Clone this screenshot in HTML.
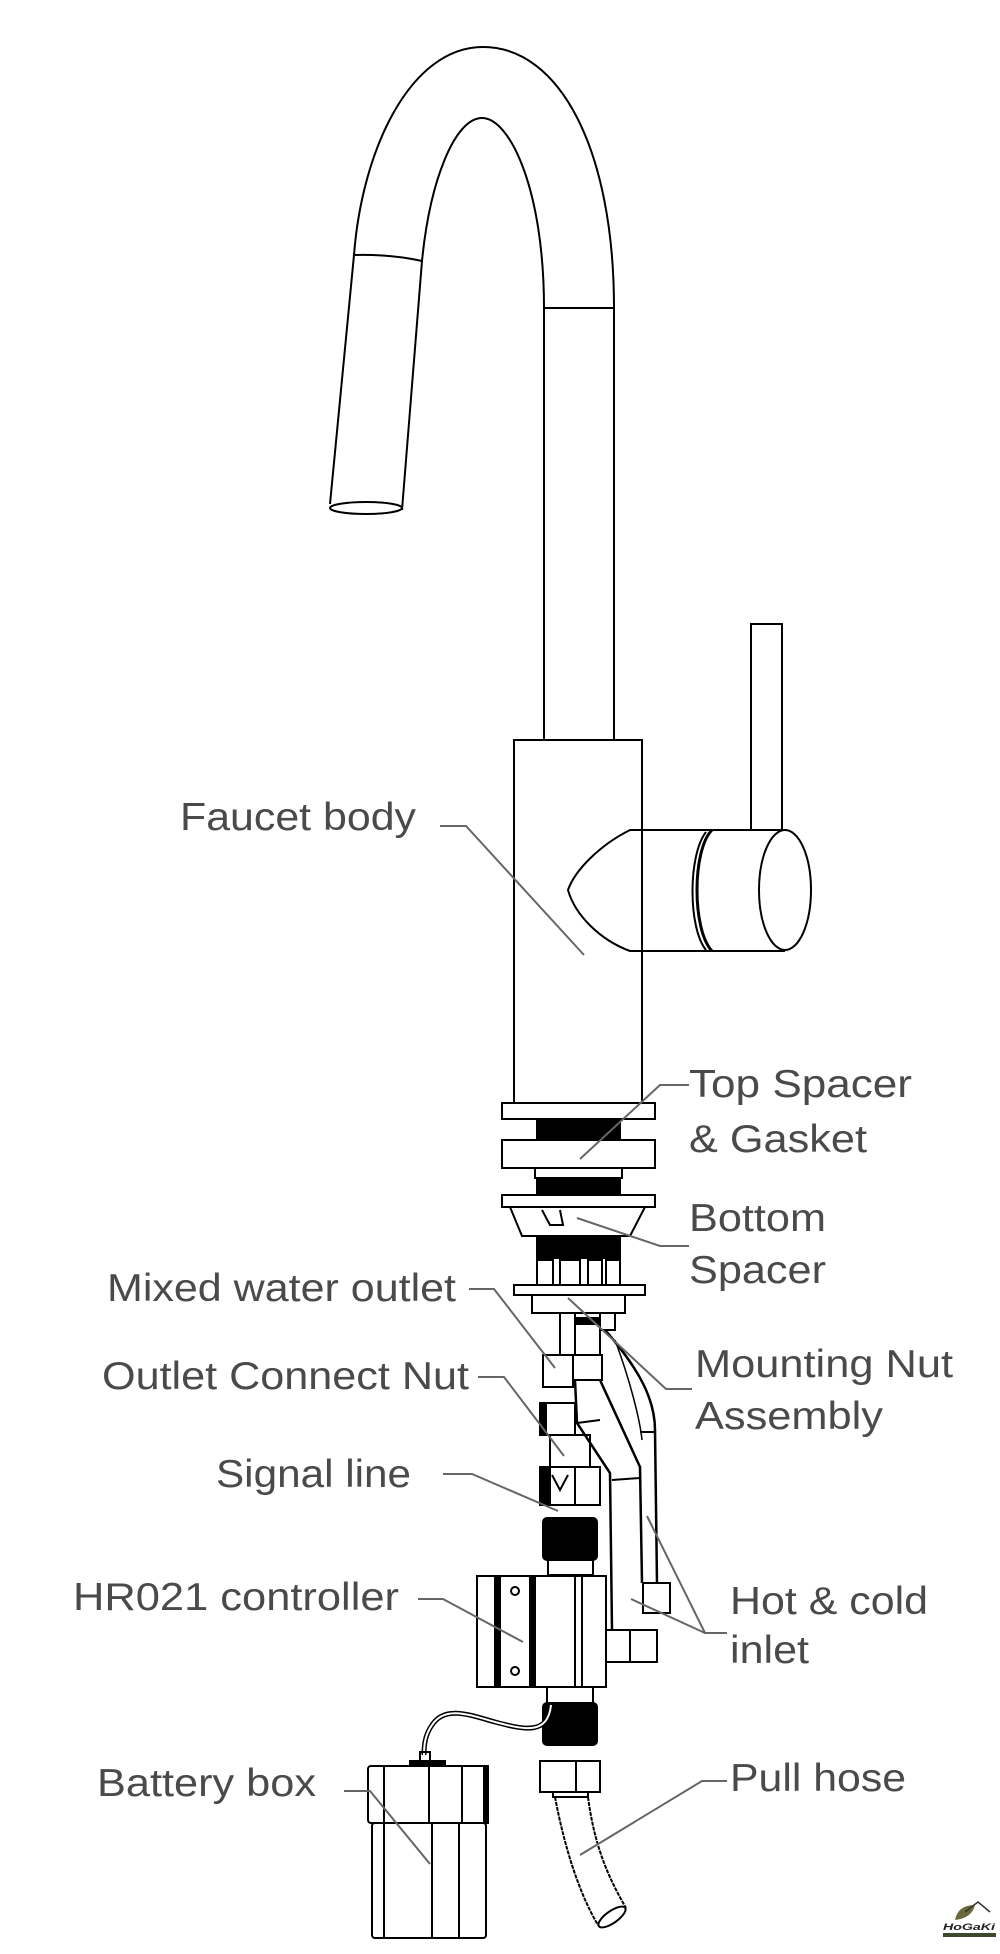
<!DOCTYPE html>
<html><head><meta charset="utf-8"><style>
html,body{margin:0;padding:0;background:#fff}
svg{display:block}
text{font-family:"Liberation Sans",sans-serif;font-size:39px;fill:#4a4a4a}
</style></head><body>
<svg width="1000" height="1954" viewBox="0 0 1000 1954" xmlns="http://www.w3.org/2000/svg">
<g fill="none" stroke="#000" stroke-width="2">
<!-- spout arc -->
<path d="M330,504 L354,255 C362,150 410,47 483,47 C560,47 614,150 614,308"/>
<path d="M402,510 L422,261 C430,180 455,118 482,118 C510,118 544,190 544,308"/>
<path d="M354,255 Q390,254 422,261"/>
<ellipse cx="366" cy="508" rx="36" ry="6"/>
<!-- riser -->
<rect x="544" y="308" width="70" height="432"/>
<!-- body -->
<rect x="514" y="740" width="128" height="363" fill="#fff"/>
<!-- handle -->
<path d="M642,830 L630,830 C600,845 575,870 568,890 C575,915 600,940 630,951 L642,951"/>
<path d="M630,830 L785,830 M630,951 L785,951"/>
<ellipse cx="785" cy="890" rx="26" ry="60"/>
<path d="M712,830 C692,850 692,930 712,951" stroke-width="3"/>
<path d="M706,832 C688,855 688,928 706,950"/>
<rect x="751" y="624" width="31" height="206"/>
<!-- spacers -->
<rect x="502" y="1103" width="153" height="16"/>
<rect x="537" y="1119" width="83" height="21" fill="#000"/>
<rect x="502" y="1140" width="153" height="28"/>
<rect x="535" y="1168" width="87" height="10"/>
<rect x="537" y="1178" width="83" height="17" fill="#000"/>
<rect x="502" y="1195" width="153" height="12"/>
<path d="M510,1207 L522,1236 L630,1236 L645,1207 Z"/>
<path d="M542,1210 L550,1225 L563,1225 L560,1210"/>
<rect x="537" y="1236" width="83" height="22" fill="#000"/>
<rect x="537" y="1260" width="16" height="25"/>
<rect x="560" y="1260" width="20" height="25"/>
<rect x="588" y="1260" width="14" height="25"/>
<rect x="606" y="1260" width="14" height="25"/>
<rect x="514" y="1285" width="131" height="10"/>
<rect x="532" y="1295" width="93" height="18"/>
<rect x="560" y="1313" width="15" height="42"/>
<rect x="575" y="1318" width="25" height="37"/>
<rect x="575" y="1318" width="25" height="6" fill="#000"/>
<rect x="600" y="1313" width="15" height="17"/>
<!-- outlet nuts -->
<rect x="543" y="1355" width="30" height="32"/>
<rect x="573" y="1355" width="29" height="25"/>
<!-- pipe A -->
<path d="M575,1380 L577,1423 L610,1473 L612,1630" stroke-width="2.5"/>
<path d="M600,1380 L640,1467 L642,1583" stroke-width="2.5"/>
<path d="M577,1423 L600,1420 M612,1480 L640,1478"/>
<!-- pipe B -->
<path d="M605,1330 C640,1370 655,1400 655,1430 L657,1583" stroke-width="2.5"/>
<path d="M615,1340 C630,1380 640,1420 642,1440" stroke-width="1.5"/>
<path d="M640,1432 L655,1432"/>
<rect x="643" y="1583" width="27" height="30"/>
<rect x="598" y="1630" width="59" height="32"/>
<path d="M630,1630 L630,1662"/>
<rect x="598" y="1630" width="4" height="32" fill="#000"/>
<!-- stack -->
<rect x="540" y="1403" width="35" height="32"/>
<rect x="540" y="1403" width="6" height="32" fill="#000"/>
<rect x="550" y="1435" width="40" height="32"/>
<rect x="540" y="1467" width="60" height="38"/>
<rect x="540" y="1467" width="10" height="38" fill="#000"/>
<path d="M575,1467 L575,1505"/>
<path d="M552,1475 L560,1490 L568,1475" stroke-width="2"/>
<rect x="543" y="1518" width="54" height="42" rx="4" fill="#000"/>
<rect x="548" y="1560" width="45" height="15"/>
<!-- controller -->
<rect x="477" y="1576" width="129" height="111" fill="#fff"/>
<path d="M495,1576 V1687 M532,1576 V1687 M575,1576 V1687 M582,1576 V1687"/>
<rect x="495" y="1576" width="5" height="111" fill="#000"/>
<rect x="530" y="1576" width="5" height="111" fill="#000"/>
<circle cx="515" cy="1591" r="4"/>
<circle cx="515" cy="1671" r="4"/>
<rect x="547" y="1687" width="46" height="16"/>
<rect x="543" y="1703" width="54" height="42" rx="4" fill="#000"/>
<!-- cable -->
<path d="M551,1705 C548,1735 525,1730 495,1722 C470,1715 445,1705 432,1725 C425,1735 424,1745 424,1755" stroke-width="5"/>
<path d="M551,1705 C548,1735 525,1730 495,1722 C470,1715 445,1705 432,1725 C425,1735 424,1745 424,1755" stroke="#fff" stroke-width="2"/>
<rect x="420" y="1752" width="10" height="9"/>
<rect x="410" y="1761" width="35" height="5" fill="#000"/>
<!-- battery -->
<rect x="368" y="1766" width="120" height="57" rx="3"/>
<rect x="372" y="1823" width="114" height="115" rx="3"/>
<path d="M384,1766 V1938 M429,1766 V1823 M462,1766 V1823 M432,1823 V1938 M459,1823 V1938"/>
<rect x="484" y="1766" width="4" height="57" fill="#000"/>
<!-- pull hose -->
<rect x="540" y="1761" width="60" height="31"/>
<path d="M576,1761 V1792"/>
<path d="M553,1792 V1797 L588,1797 V1792"/>
<path d="M555,1797 C565,1850 580,1895 598,1925" stroke-dasharray="4 1"/>
<path d="M588,1797 C595,1850 610,1880 626,1908" stroke-dasharray="4 1"/>
<ellipse cx="612" cy="1917" rx="16" ry="6" transform="rotate(-35 612 1917)"/>
</g>
<!-- leaders -->
<g fill="none" stroke="#666" stroke-width="2">
<path d="M440,826 L466,826 L584,955"/>
<path d="M689,1085 L660,1085 L580,1159"/>
<path d="M689,1246 L660,1246 L577,1218"/>
<path d="M469,1289 L494,1289 L555,1368"/>
<path d="M692,1389 L666,1389 L568,1298"/>
<path d="M478,1377 L504,1377 L564,1456"/>
<path d="M443,1474 L472,1474 L558,1511"/>
<path d="M418,1599 L443,1599 L523,1642"/>
<path d="M727,1633 L705,1633 L647,1516 M705,1633 L631,1599"/>
<path d="M344,1791 L370,1791 L430,1864"/>
<path d="M727,1781 L702,1781 L580,1855"/>
</g>
<!-- labels -->
<text x="180" y="830" textLength="236" lengthAdjust="spacingAndGlyphs">Faucet body</text>
<text x="689" y="1097" textLength="223" lengthAdjust="spacingAndGlyphs">Top Spacer</text>
<text x="689" y="1152" textLength="178" lengthAdjust="spacingAndGlyphs">&amp; Gasket</text>
<text x="689" y="1231" textLength="137" lengthAdjust="spacingAndGlyphs">Bottom</text>
<text x="689" y="1283" textLength="137" lengthAdjust="spacingAndGlyphs">Spacer</text>
<text x="107" y="1301" textLength="349" lengthAdjust="spacingAndGlyphs">Mixed water outlet</text>
<text x="695" y="1377" textLength="258" lengthAdjust="spacingAndGlyphs">Mounting Nut</text>
<text x="695" y="1429" textLength="188" lengthAdjust="spacingAndGlyphs">Assembly</text>
<text x="102" y="1389" textLength="367" lengthAdjust="spacingAndGlyphs">Outlet Connect Nut</text>
<text x="216" y="1487" textLength="195" lengthAdjust="spacingAndGlyphs">Signal line</text>
<text x="73" y="1610" textLength="326" lengthAdjust="spacingAndGlyphs">HR021 controller</text>
<text x="730" y="1614" textLength="198" lengthAdjust="spacingAndGlyphs">Hot &amp; cold</text>
<text x="730" y="1663" textLength="79" lengthAdjust="spacingAndGlyphs">inlet</text>
<text x="97" y="1796" textLength="219" lengthAdjust="spacingAndGlyphs">Battery box</text>
<text x="730" y="1791" textLength="176" lengthAdjust="spacingAndGlyphs">Pull hose</text>
<!-- logo -->
<path d="M955,1920 Q958,1905 975,1905 Q972,1918 955,1920 Z" fill="#6a6a3a"/>
<path d="M965,1912 L978,1902 L990,1912" fill="none" stroke="#333" stroke-width="1.5"/>
<text x="943" y="1930" style="font-size:9px;font-weight:bold;font-style:italic;fill:#222" textLength="52" lengthAdjust="spacingAndGlyphs">HoGaKi</text>
<rect x="943" y="1933" width="53" height="4" fill="#3a4a2a"/>
</svg>
</body></html>
